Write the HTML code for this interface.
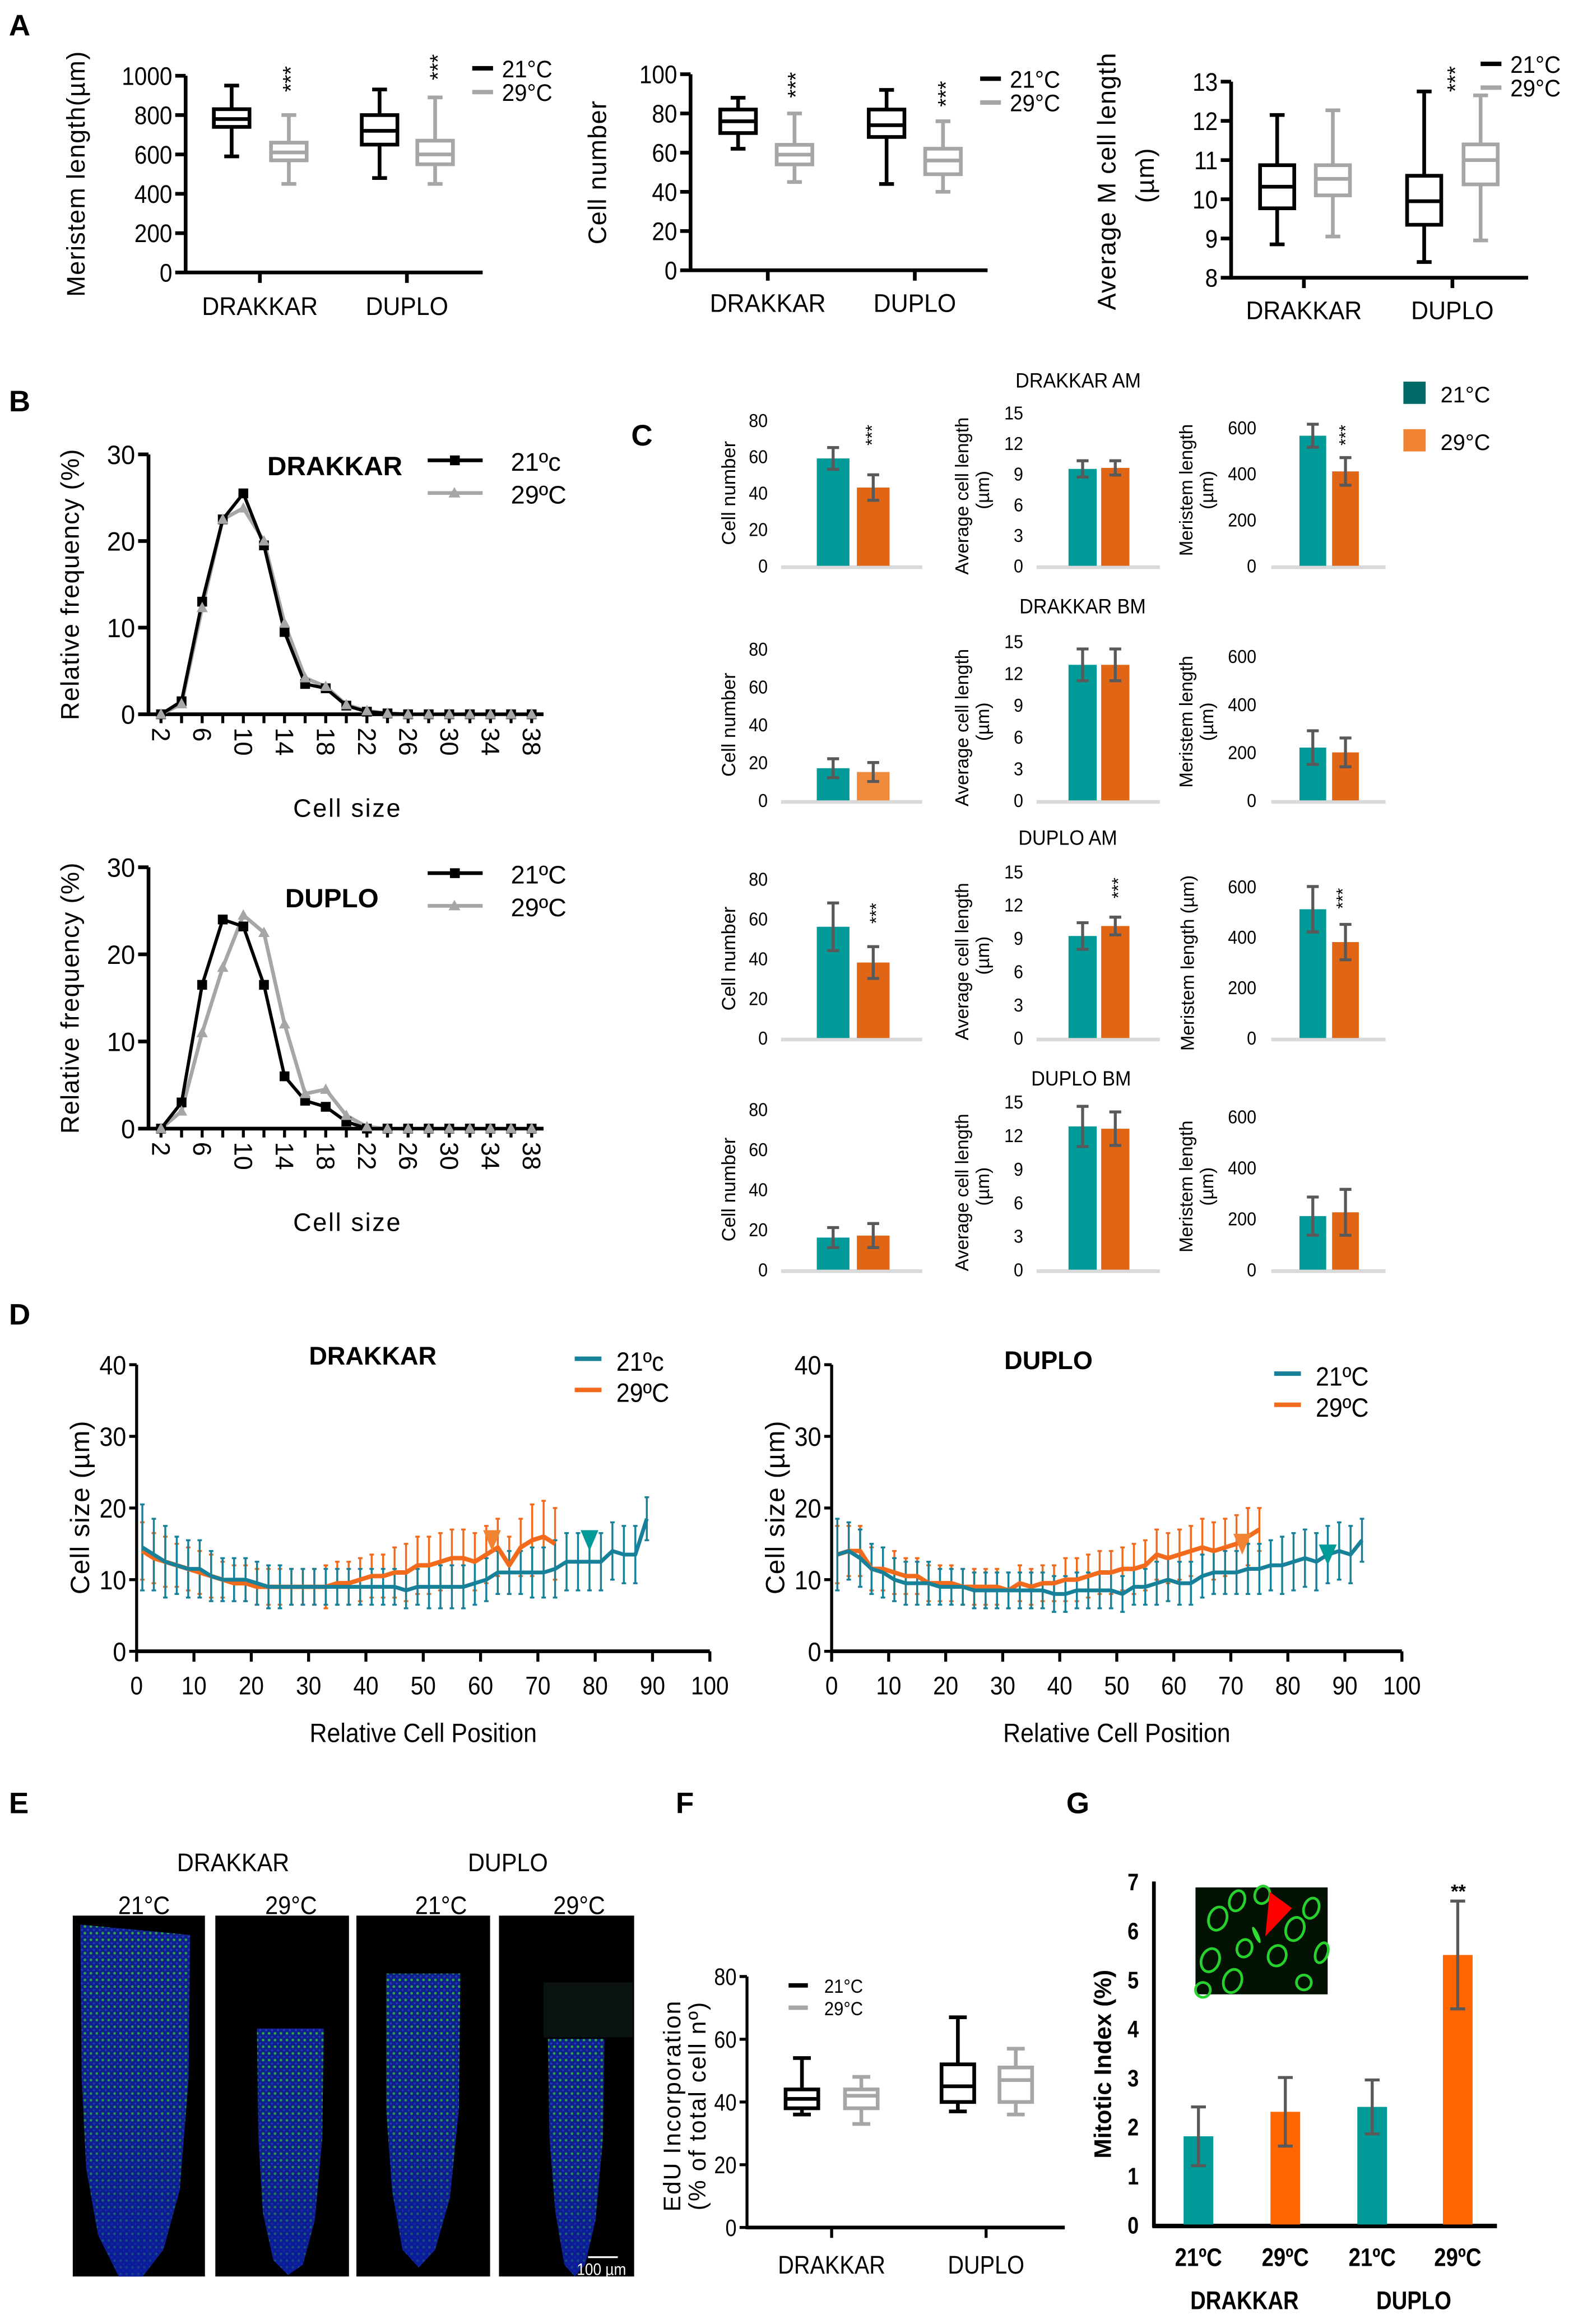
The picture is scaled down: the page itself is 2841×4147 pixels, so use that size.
<!DOCTYPE html>
<html><head><meta charset="utf-8"><style>
html,body{margin:0;padding:0;background:#fff;}
svg{display:block;font-family:"Liberation Sans",Arial,sans-serif;}
</style></head><body>
<svg id="fig" xmlns="http://www.w3.org/2000/svg" width="2841" height="4147" viewBox="0 0 1072 1565" preserveAspectRatio="none">
<defs>
<pattern id="cells" width="4" height="4.5" patternUnits="userSpaceOnUse">
<rect width="4" height="4.5" fill="#10208a"/>
<circle cx="1.2" cy="1.3" r="0.9" fill="#2ea848"/>
<circle cx="3.2" cy="3.6" r="0.7" fill="#1f3fc0"/>
</pattern>
<linearGradient id="fadeblue" x1="0" y1="0" x2="0" y2="1">
<stop offset="0" stop-color="#0a1890" stop-opacity="0"/>
<stop offset="0.55" stop-color="#0a1890" stop-opacity="0.15"/>
<stop offset="1" stop-color="#0a1aa0" stop-opacity="0.75"/>
</linearGradient>
</defs>
<g id="root"></g>
</svg>
<script>
// ===== DATA =====
const aGroups = ['DRAKKAR', 'DUPLO'];
const a1_21 = [[590, 740, 780, 830, 950], [480, 650, 720, 800, 930]];
const a1_29 = [[450, 570, 610, 660, 800], [450, 550, 600, 670, 890]];
const a2_21 = [[62, 70, 76, 82, 88], [44, 68, 74, 82, 92]];
const a2_29 = [[45, 54, 59, 64, 80], [40, 49, 56, 62, 76]];
const a3_21 = [[8.85, 9.77, 10.32, 10.87, 12.15], [8.4, 9.35, 9.95, 10.6, 12.75]];
const a3_29 = [[9.05, 10.1, 10.52, 10.87, 12.27], [8.95, 10.38, 11.0, 11.4, 12.65]];
const a1Ticks = [0, 200, 400, 600, 800, 1000];
const a2Ticks = [0, 20, 40, 60, 80, 100];
const a3Ticks = [8, 9, 10, 11, 12, 13];
const bCats = [2, 4, 6, 8, 10, 12, 14, 16, 18, 20, 22, 24, 26, 28, 30, 32, 34, 36, 38];
const b1_21 = [0, 1.5, 13, 22.5, 25.5, 19.5, 9.5, 3.5, 3, 1, 0.3, 0.1, 0, 0, 0, 0, 0, 0, 0];
const b1_29 = [0, 1.2, 12.3, 22.5, 23.8, 20, 10.5, 4.2, 3.2, 1.1, 0.4, 0.1, 0, 0, 0, 0, 0, 0, 0];
const b2_21 = [0, 3, 16.5, 24, 23.2, 16.5, 6, 3.2, 2.5, 0.8, 0, 0, 0, 0, 0, 0, 0, 0, 0];
const b2_29 = [0, 2, 11, 18.5, 24.5, 22.5, 12, 4, 4.5, 1.5, 0.2, 0, 0, 0, 0, 0, 0, 0, 0];
const bTicks = [0, 10, 20, 30];
const cRows = ['DRAKKAR AM', 'DRAKKAR BM', 'DUPLO AM', 'DUPLO BM'];
const cNum21 = [[59, 6], [17, 5], [56, 12], [16, 5]];
const cNum29 = [[43, 7], [15, 5], [38, 8], [17, 6]];
const cLen21 = [[9.5, 0.8], [12.8, 1.5], [9.2, 1.2], [12.8, 1.8]];
const cLen29 = [[9.6, 0.7], [12.8, 1.5], [10.1, 0.8], [12.6, 1.5]];
const cMer21 = [[565, 50], [220, 70], [510, 90], [210, 75]];
const cMer29 = [[410, 60], [200, 60], [380, 70], [225, 90]];
const cNumTicks = [0, 20, 40, 60, 80];
const cLenTicks = [0, 3, 6, 9, 12, 15];
const cMerTicks = [0, 200, 400, 600];
const d1_21 = [14.5, 13.5, 12.5, 12, 11.5, 11.5, 10.5, 10, 10, 10, 9.5, 9, 9, 9, 9, 9, 9, 9, 9, 9, 9, 9, 9, 8.5, 9, 9, 9, 9, 9, 9.5, 10, 11, 11, 11, 11, 11, 11.5, 12.5, 12.5, 12.5, 12.5, 14, 13.5, 13.5, 18.5];
const d1_21e = [6, 5, 5, 4, 4, 4, 3.5, 3, 3, 3, 3, 3, 3, 2.5, 2.5, 2.5, 2.5, 2.5, 2.5, 2.5, 2.5, 2.5, 2.5, 2.5, 2.5, 3, 3, 3, 3, 3, 3, 3, 3, 3, 3.5, 3.5, 4, 4, 4, 4, 4, 4, 4, 4, 3];
const d1_29 = [14, 13, 12.5, 12, 11.5, 11, 10.5, 10, 9.5, 9.5, 9, 9, 9, 9, 9, 9, 9, 9.5, 9.5, 10, 10.5, 10.5, 11, 11, 12, 12, 12.5, 13, 13, 12.5, 13.5, 14.5, 12, 14.5, 15.5, 16, 15];
const d1_29e = [4, 3.5, 3.5, 3, 3, 3, 3, 2.5, 2.5, 2.5, 2.5, 2.5, 2.5, 2.5, 2.5, 2.5, 3, 3, 3, 3, 3, 3, 3.5, 4, 4, 4, 4, 4, 4, 4, 4, 4, 4, 4, 5, 5, 5];
const d2_21 = [13.5, 14, 13, 11.5, 11, 10, 9.5, 9.5, 9.5, 9, 9, 9, 8.5, 8.5, 8.5, 8.5, 8.5, 8.5, 8.5, 8, 8, 8.5, 8.5, 8.5, 8.5, 8, 9, 9, 9.5, 10, 9.5, 9.5, 10.5, 11, 11, 11, 11.5, 11.5, 12, 12, 12.5, 13, 12.5, 13.5, 14, 13.5, 15.5];
const d2_21e = [5, 4, 4, 3.5, 3.5, 3, 3, 3, 3, 2.5, 2.5, 2.5, 2.5, 2.5, 2.5, 2.5, 2.5, 2.5, 2.5, 2.5, 2.5, 2.5, 2.5, 2.5, 2.5, 2.5, 2.5, 2.5, 3, 3, 3, 3, 3, 3, 3, 3, 3.5, 3.5, 3.5, 4, 4, 4, 4, 4, 4, 4, 3];
const d2_29 = [13.5, 14, 14, 11.5, 11.5, 11, 10.5, 10.5, 9.5, 9.5, 9.5, 9, 9, 9, 9, 8.5, 9.5, 9, 9.5, 9.5, 10, 10, 10.5, 11, 11, 11.5, 11.5, 12, 13.5, 13, 13.5, 14, 14.5, 14, 14.5, 15, 16, 17];
const d2_29e = [4, 3.5, 3.5, 3, 3, 3, 2.5, 2.5, 2.5, 2.5, 2.5, 2.5, 2.5, 2.5, 2.5, 2.5, 2.5, 2.5, 2.5, 2.5, 3, 3, 3, 3, 3, 3, 3.5, 3.5, 3.5, 3.5, 3.5, 3.5, 4, 4, 4, 4, 4, 3];
const dXTicks = [0, 10, 20, 30, 40, 50, 60, 70, 80, 90, 100];
const dYTicks = [0, 10, 20, 30, 40];
const f_21 = [[36, 38, 41, 44, 54], [37, 40, 45, 52, 67]];
const f_29 = [[33, 38, 42, 44, 48], [36, 40, 47, 51, 57]];
const fTicks = [0, 20, 40, 60, 80];
const gCats = ['21ºC', '29ºC', '21ºC', '29ºC'];
const gVals = [1.8, 2.3, 2.4, 5.5];
const gErr = [0.6, 0.7, 0.55, 1.1];
const gTicks = [0, 1, 2, 3, 4, 5, 6, 7];

// ===== HELPERS =====
const NS = 'http://www.w3.org/2000/svg';
const R = document.getElementById('root');
function mk(tag, a, p) { const e = document.createElementNS(NS, tag); for (const k in a) e.setAttribute(k, a[k]); (p || R).appendChild(e); return e; }
function T(x, y, s, nm, o) {
  o = o || {};
  const e = mk('text', { x: x, y: y, 'font-size': o.fs || 14, 'text-anchor': o.a || 'start', fill: o.c || '#000', 'font-weight': o.b ? 'bold' : 'normal' }, o.p);
  if (o.rot) e.setAttribute('transform', 'rotate(' + o.rot + ' ' + x + ' ' + y + ')');
  if (o.ls !== undefined) e.setAttribute('letter-spacing', o.ls);
  if (o.sx) e.setAttribute('transform', 'translate(' + x + ' ' + y + ') scale(' + o.sx + ' 1) translate(' + (-x) + ' ' + (-y) + ')' + (o.rot ? ' rotate(' + o.rot + ' ' + x + ' ' + y + ')' : ''));
  e.textContent = s;
  
  
  return e;
}
function L(x1, y1, x2, y2, c, w, nm, p) {
  const e = mk('line', { x1: x1, y1: y1, x2: x2, y2: y2, stroke: c || '#000', 'stroke-width': w || 2 }, p);
  
  
  return e;
}
function lin(v0, v1, p0, p1) { return v => p0 + (v - v0) / (v1 - v0) * (p1 - p0); }
function G(nm) { const g = mk('g', {});   return g; }

function yAxis(x, y, ticks, fs, tl, nm, opt) {
  opt = opt || {};
  const g = G(nm);
  L(x, y(ticks[0]) + 1.2, x, y(ticks[ticks.length - 1]), '#000', opt.w || 2.5, 'y-axis-line', g);
  ticks.forEach(t => {
    L(x - tl, y(t), x, y(t), '#000', opt.w || 2.5, 'y-tick', g);
    T(x - tl - 2, y(t) + fs * 0.36, String(t), 'y-tick-label', { fs: fs, a: 'end', p: g, sx: opt.sx });
  });
  return g;
}
function boxplot(cx, y, st, col, w, cap, nm, p) {
  const g = mk('g', {}, p);
  
  
  const sw = 2.5;
  L(cx, y(st[0]), cx, y(st[1]), col, sw, 'whisker-low', g);
  L(cx, y(st[3]), cx, y(st[4]), col, sw, 'whisker-high', g);
  L(cx - cap / 2, y(st[0]), cx + cap / 2, y(st[0]), col, sw, 'whisker-cap', g);
  L(cx - cap / 2, y(st[4]), cx + cap / 2, y(st[4]), col, sw, 'whisker-cap', g);
  const r = mk('rect', { x: cx - w / 2, y: y(st[3]), width: w, height: y(st[1]) - y(st[3]), fill: 'none', stroke: col, 'stroke-width': sw }, g);
  
  
  L(cx - w / 2, y(st[2]), cx + w / 2, y(st[2]), col, sw, 'median-line', g);
}
function errbar(cx, y1, y2, cap, col, w, p) {
  L(cx, y1, cx, y2, col, w, 'error-bar', p);
  L(cx - cap / 2, y1, cx + cap / 2, y1, col, w, 'error-cap', p);
  L(cx - cap / 2, y2, cx + cap / 2, y2, col, w, 'error-cap', p);
}

// ===== PANEL LETTERS =====
[['A', 6, 24], ['B', 6, 277], ['C', 425, 300], ['D', 6, 892], ['E', 6, 1221], ['F', 455, 1221], ['G', 718, 1221]].forEach(l => {
  T(l[1], l[2], l[0], 'panel-label-' + l[0].toLowerCase(), { fs: 20, b: true });
});

// ===== PANEL A =====
function panelA(cfg) {
  const g = G(cfg.name);
  const y = cfg.y;
  yAxis(cfg.ax, y, cfg.ticks, 17, 7, cfg.name + '-y-axis', { sx: 0.9 });
  const yb = y(cfg.ticks[0]);
  L(cfg.ax, yb, cfg.xend, yb, '#000', 2.5, 'x-axis-line', g);
  aGroups.forEach((grp, i) => {
    L(cfg.gx[i], yb, cfg.gx[i], yb + 7, '#000', 2.5, 'x-tick', g);
    T(cfg.gx[i], cfg.ly, grp, 'x-label-' + grp.toLowerCase(), { fs: 17, a: 'middle', p: g, sx: 0.95 });
    boxplot(cfg.bx[i][0], y, cfg.d21[i], '#000', cfg.bw, 10, 'box-' + grp.toLowerCase() + '-21c', g);
    boxplot(cfg.bx[i][1], y, cfg.d29[i], '#a6a6a6', cfg.bw, 10, 'box-' + grp.toLowerCase() + '-29c', g);
  });
  cfg.stars.forEach(s => T(s[0], s[1], '***', 'significance-stars', { fs: 15, rot: -90, p: g }));
  L(cfg.lx, cfg.ly1, cfg.lx + 14, cfg.ly1, '#000', 3, 'legend-line-21c', g);
  L(cfg.lx, cfg.ly1 + 16, cfg.lx + 14, cfg.ly1 + 16, '#a6a6a6', 3, 'legend-line-29c', g);
  T(cfg.lx + 20, cfg.ly1 + 6, '21°C', 'legend-label-21c', { fs: 16, p: g, sx: 0.95 });
  T(cfg.lx + 20, cfg.ly1 + 22, '29°C', 'legend-label-29c', { fs: 16, p: g, sx: 0.95 });
  cfg.titles.forEach(t => T(t[0], t[1], t[2], 'y-axis-title', { fs: 17, a: 'middle', rot: -90, p: g, ls: t[3] || 0 }));
}
panelA({ name: 'chart-a-meristem-length', ax: 125, y: lin(0, 1000, 183.5, 51), ticks: a1Ticks, xend: 325, gx: [175, 274], ly: 212,
  bx: [[156, 194.5], [255.6, 293]], bw: 24, d21: a1_21, d29: a1_29, stars: [[201, 62], [300, 54]], lx: 318, ly1: 46,
  titles: [[57, 117, 'Meristem length(µm)', 0.5]] });
panelA({ name: 'chart-a-cell-number', ax: 465, y: lin(0, 100, 182, 50), ticks: a2Ticks, xend: 665, gx: [517, 616], ly: 210,
  bx: [[497, 535], [597, 635]], bw: 24, d21: a2_21, d29: a2_29, stars: [[541, 66], [642, 72]], lx: 660, ly1: 53,
  titles: [[408, 116, 'Cell number', 0.5]] });
panelA({ name: 'chart-a-average-cell-length', ax: 829, y: lin(8, 13, 187, 55), ticks: a3Ticks, xend: 1029, gx: [878, 978], ly: 215,
  bx: [[860, 897.5], [959, 997]], bw: 23, d21: a3_21, d29: a3_29, stars: [[985, 62]], lx: 997, ly1: 43,
  titles: [[751, 122, 'Average M cell length', 0.5], [777, 118, '(µm)', 0.5]] });

// ===== PANEL B =====
function panelB(cfg) {
  const g = G(cfg.name);
  const x = lin(2, 38, 108.4, 358);
  const y = cfg.y;
  yAxis(100, y, bTicks, 18, 7, cfg.name + '-y-axis', { sx: 0.95 });
  L(100, y(0), 366, y(0), '#000', 2.5, 'x-axis-line', g);
  bCats.forEach((c, i) => {
    L(x(c), y(0), x(c), y(0) + 6, '#000', 2, 'x-tick', g);
    if (i % 2 === 0) T(x(c) - 6, y(0) + 9, String(c), 'x-tick-label', { fs: 17, rot: 90, p: g });
  });
  const p29 = bCats.map((c, i) => x(c) + ',' + y(cfg.s29[i])).join(' ');
  const l29 = mk('polyline', { points: p29, fill: 'none', stroke: '#a6a6a6', 'stroke-width': 2.5 }, g);
  
  
  const p21 = bCats.map((c, i) => x(c) + ',' + y(cfg.s21[i])).join(' ');
  const l21 = mk('polyline', { points: p21, fill: 'none', stroke: '#000', 'stroke-width': 2.2 }, g);
  
  
  bCats.forEach((c, i) => {
    const s = mk('rect', { x: x(c) - 3.3, y: y(cfg.s21[i]) - 3.3, width: 6.6, height: 6.6, fill: '#000' }, g);
    
    
    const cx = x(c), cy = y(cfg.s29[i]);
    const t = mk('polygon', { points: (cx - 3.8) + ',' + (cy + 3) + ' ' + (cx + 3.8) + ',' + (cy + 3) + ' ' + cx + ',' + (cy - 4), fill: '#a6a6a6' }, g);
    
    
  });
  T(cfg.tx, cfg.ty, cfg.title, 'chart-title', { fs: 18, b: true, p: g });
  L(288, cfg.ly, 325, cfg.ly, '#000', 2.5, 'legend-line-21c', g);
  const ls = mk('rect', { x: 303, y: cfg.ly - 3.3, width: 6.6, height: 6.6, fill: '#000' }, g);
  
  
  L(288, cfg.ly + 22, 325, cfg.ly + 22, '#a6a6a6', 2.5, 'legend-line-29c', g);
  const lt = mk('polygon', { points: '302,' + (cfg.ly + 25) + ' 310,' + (cfg.ly + 25) + ' 306,' + (cfg.ly + 18), fill: '#a6a6a6' }, g);
  
  
  T(344, cfg.ly + 7, cfg.l1, 'legend-label-21c', { fs: 17, p: g });
  T(344, cfg.ly + 29, '29ºC', 'legend-label-29c', { fs: 17, p: g });
  T(53, (y(0) + y(30)) / 2, 'Relative frequency (%)', 'y-axis-title', { fs: 17, a: 'middle', rot: -90, p: g, ls: 0.5 });
  T(234, y(0) + 69, 'Cell size', 'x-axis-title', { fs: 17, a: 'middle', p: g, ls: 1 });
}
panelB({ name: 'chart-b-drakkar', y: lin(0, 30, 481, 306), s21: b1_21, s29: b1_29, title: 'DRAKKAR', tx: 180, ty: 320, ly: 310, l1: '21ºc' });
panelB({ name: 'chart-b-duplo', y: lin(0, 30, 760, 584), s21: b2_21, s29: b2_29, title: 'DUPLO', tx: 192, ty: 611, ly: 588, l1: '21ºC' });

// ===== PANEL C =====
const cTop = [283, 437, 592, 747];
const cBase = [381, 539, 699, 855];
const cTitleY = [261, 413, 569, 731];
const cTitleX = [726, 729, 719, 728];
const cStars = [[[1, 587, 293], [1, 906, 293]], [], [[1, 590, 615], [1, 753, 598], [1, 904, 605]], []];
cRows.forEach((rw, r) => {
  const g = G('chart-c-' + rw.toLowerCase().replace(' ', '-'));
  T(cTitleX[r], cTitleY[r], rw, 'row-title', { fs: 14, a: 'middle', p: g, sx: 0.92 });
  const cols = [
    { d21: cNum21[r], d29: cNum29[r], ticks: cNumTicks, cx: [561, 588], w: 22, b0: 526, b1: 621, lx: 517, top: cTop[r], n: 'cell-number' },
    { d21: cLen21[r], d29: cLen29[r], ticks: cLenTicks, cx: [729, 751], w: 19, b0: 698, b1: 781, lx: 689, top: cTop[r] - 5, n: 'average-cell-length' },
    { d21: cMer21[r], d29: cMer29[r], ticks: cMerTicks, cx: [884, 906], w: 18, b0: 856, b1: 933, lx: 846, top: cTop[r] + 5, n: 'meristem-length' }
  ];
  cols.forEach((c, ci) => {
    const y = lin(0, c.ticks[c.ticks.length - 1], cBase[r], c.top);
    c.ticks.forEach(t => T(c.lx, y(t) + 4.5, String(t), 'y-tick-label', { fs: 12.5, a: 'end', p: g, sx: 0.92 }));
    L(c.b0, cBase[r] + 1, c.b1, cBase[r] + 1, '#d9d9d9', 2.5, 'baseline', g);
    [[c.d21, '#009a98', '21c'], [c.d29, (r === 1 && ci === 0) ? '#f08a3c' : '#e06616', '29c']].forEach((s, k) => {
      const b = mk('rect', { x: c.cx[k] - c.w / 2, y: y(s[0][0]), width: c.w, height: cBase[r] - y(s[0][0]), fill: s[1] }, g);
      
      
      errbar(c.cx[k], y(s[0][0] + s[0][1]), y(s[0][0] - s[0][1]), 8, '#595959', 2, g);
    });
  });
  const mid = (cTop[r] + cBase[r]) / 2;
  T(495, mid, 'Cell number', 'y-axis-title', { fs: 13, a: 'middle', rot: -90, p: g });
  T(652, mid + 2, 'Average cell length', 'y-axis-title', { fs: 12.5, a: 'middle', rot: -90, p: g });
  T(666, mid - 2, '(µm)', 'y-axis-title', { fs: 12.5, a: 'middle', rot: -90, p: g });
  if (r === 2) {
    T(804, mid + 3, 'Meristem length (µm)', 'y-axis-title', { fs: 12.5, a: 'middle', rot: -90, p: g });
  } else {
    T(803, mid - 2, 'Meristem length', 'y-axis-title', { fs: 12.5, a: 'middle', rot: -90, p: g });
    T(817, mid - 2, '(µm)', 'y-axis-title', { fs: 12.5, a: 'middle', rot: -90, p: g });
  }
  cStars[r].forEach(s => T(s[1] + 4, s[2], '***', 'significance-stars', { fs: 12, rot: -90, a: 'middle', p: g }));
});
{
  const g = G('legend-c');
  const s1 = mk('rect', { x: 945, y: 257, width: 15, height: 15, fill: '#006a68' }, g);
  
  
  const s2 = mk('rect', { x: 945, y: 289, width: 15, height: 15, fill: '#f08433' }, g);
  
  
  T(970, 271, '21°C', 'legend-label-21c', { fs: 15, p: g });
  T(970, 303, '29°C', 'legend-label-29c', { fs: 15, p: g });
}

// ===== PANEL D =====
function panelD(cfg) {
  const g = G(cfg.name);
  const x = lin(0, 100, cfg.x0, cfg.x1);
  const y = lin(0, 40, 1112, 919);
  yAxis(cfg.x0, y, dYTicks, 18, 5, cfg.name + '-y-axis', { w: 2, sx: 0.9 });
  L(cfg.x0, y(0), cfg.x1, y(0), '#000', 2.5, 'x-axis-line', g);
  dXTicks.forEach(t => {
    L(x(t), y(0), x(t), y(0) + 7, '#000', 2, 'x-tick', g);
    T(x(t), y(0) + 29, String(t), 'x-tick-label', { fs: 17, a: 'middle', p: g, sx: 0.9 });
  });
  const series = [[cfg.s29, cfg.e29, '#f26a1b', '29c', 3], [cfg.s21, cfg.e21, '#17819a', '21c', 2.6]];
  series.forEach(s => {
    s[0].forEach((v, i) => errbar(x(1 + 2 * i), y(v + s[1][i]), y(v - s[1][i]), 3, s[2], 1.3, g));
  });
  series.forEach(s => {
    const pts = s[0].map((v, i) => x(1 + 2 * i) + ',' + y(v)).join(' ');
    const pl = mk('polyline', { points: pts, fill: 'none', stroke: s[2], 'stroke-width': s[4], 'stroke-linejoin': 'round' }, g);
    
    
  });
  cfg.arrows.forEach(a => {
    const ax = x(a[0]), ay = y(a[1]);
    const tri = mk('polygon', { points: (ax - 6) + ',' + (ay - 14) + ' ' + (ax + 6) + ',' + (ay - 14) + ' ' + ax + ',' + ay, fill: a[2] }, g);
    
    
  });
  T(cfg.tx, cfg.ty, cfg.title, 'chart-title', { fs: 17, b: true, a: 'middle', p: g });
  L(cfg.lx, cfg.ly, cfg.lx + 18, cfg.ly, '#17819a', 3, 'legend-line-21c', g);
  L(cfg.lx, cfg.ly + 21, cfg.lx + 18, cfg.ly + 21, '#f26a1b', 3, 'legend-line-29c', g);
  T(cfg.lx + 28, cfg.ly + 8, cfg.l1, 'legend-label-21c', { fs: 18, p: g, sx: 0.9 });
  T(cfg.lx + 28, cfg.ly + 29, '29ºC', 'legend-label-29c', { fs: 18, p: g, sx: 0.9 });
  T(cfg.x0 - 32, 1015, 'Cell size (µm)', 'y-axis-title', { fs: 18, a: 'middle', rot: -90, p: g, ls: 0.5 });
  T((cfg.x0 + cfg.x1) / 2, 1173, 'Relative Cell Position', 'x-axis-title', { fs: 18, a: 'middle', p: g, sx: 0.9 });
}
panelD({ name: 'chart-d-drakkar', x0: 92, x1: 478, s21: d1_21, e21: d1_21e, s29: d1_29, e29: d1_29e, arrows: [[62, 14, '#f08433'], [79, 14, '#009a98']],
  title: 'DRAKKAR', tx: 251, ty: 919, lx: 387, ly: 915, l1: '21ºc' });
panelD({ name: 'chart-d-duplo', x0: 560, x1: 944, s21: d2_21, e21: d2_21e, s29: d2_29, e29: d2_29e, arrows: [[72, 13.5, '#f08433'], [87, 12, '#009a98']],
  title: 'DUPLO', tx: 706, ty: 922, lx: 858, ly: 925, l1: '21ºC' });

// ===== PANEL E (microscopy) =====
{
  const g = G('panel-e-root-images');
  T(157, 1260, 'DRAKKAR', 'label-drakkar', { fs: 17, a: 'middle', p: g, sx: 0.92 });
  T(342, 1260, 'DUPLO', 'label-duplo', { fs: 17, a: 'middle', p: g, sx: 0.92 });
  [[97, '21°C'], [196, '29°C'], [297, '21°C'], [390, '29°C']].forEach(t => T(t[0], 1289, t[1], 'temperature-label', { fs: 17, a: 'middle', p: g, sx: 0.92 }));
  const panels = [[49, 89], [145, 90], [240, 90], [336, 91]];
  const roots = [
    'M54,1296 L128,1303 L127,1400 L121,1475 L110,1515 L96,1533 L80,1533 L66,1505 L58,1460 L55,1400 Z',
    'M173,1366 L218,1366 L217,1440 L212,1495 L204,1525 L194,1532 L184,1522 L177,1490 L174,1440 Z',
    'M260,1329 L310,1329 L309,1420 L303,1480 L293,1515 L282,1527 L271,1515 L264,1475 L260,1420 Z',
    'M369,1373 L407,1373 L406,1440 L401,1495 L394,1525 L387,1533 L380,1525 L374,1490 L370,1440 Z'
  ];
  panels.forEach((p, i) => {
    const r = mk('rect', { x: p[0], y: 1290, width: p[1], height: 243, fill: '#000' }, g);
    
    
  });
  const dk = mk('rect', { x: 366, y: 1335, width: 60, height: 37, fill: '#0a1212' }, g);
  
  
  roots.forEach((d, i) => {
    const pth = mk('path', { d: d, fill: 'url(#cells)' }, g);
    
    
    const ov = mk('path', { d: d, fill: 'url(#fadeblue)' }, g);
    
    
  });
  L(396, 1520, 416, 1520, '#fff', 1.2, 'scale-bar', g);
  T(405, 1532, '100 µm', 'scale-bar-label', { fs: 11, a: 'middle', c: '#fff', p: g, sx: 0.9 });
}

// ===== PANEL F =====
{
  const g = G('chart-f-edu');
  const y = lin(0, 80, 1500, 1331);
  yAxis(503, y, fTicks, 16, 5, 'chart-f-y-axis', { w: 2, sx: 0.85 });
  L(503, y(0), 717, y(0), '#000', 2.5, 'x-axis-line', g);
  const gx = [560, 664];
  const bx = [[540, 580], [645, 684]];
  aGroups.forEach((grp, i) => {
    L(gx[i], y(0), gx[i], y(0) + 7, '#000', 2, 'x-tick', g);
    T(gx[i], 1531, grp, 'x-label-' + grp.toLowerCase(), { fs: 17, a: 'middle', p: g, sx: 0.88 });
    boxplot(bx[i][0], y, f_21[i], '#000', 22, 12, 'box-' + grp.toLowerCase() + '-21c', g);
    boxplot(bx[i][1], y, f_29[i], '#a6a6a6', 22, 12, 'box-' + grp.toLowerCase() + '-29c', g);
  });
  L(531, 1337, 544, 1337, '#000', 3, 'legend-line-21c', g);
  L(531, 1352, 544, 1352, '#a6a6a6', 3, 'legend-line-29c', g);
  T(555, 1342, '21°C', 'legend-label-21c', { fs: 13, p: g, sx: 0.9 });
  T(555, 1357, '29°C', 'legend-label-29c', { fs: 13, p: g, sx: 0.9 });
  T(458, 1418, 'EdU Incorporation', 'y-axis-title', { fs: 16, a: 'middle', rot: -90, p: g, ls: 0.8 });
  T(475, 1418, '(% of total cell nº)', 'y-axis-title', { fs: 16, a: 'middle', rot: -90, p: g, ls: 0.8 });
}

// ===== PANEL G =====
{
  const g = G('chart-g-mitotic-index');
  const y = lin(0, 7, 1498, 1267);
  const x = [807, 865.5, 924, 981.6];
  L(777, 1267, 777, 1500, '#000', 2.5, 'y-axis-line', g);
  gTicks.forEach(t => T(763, y(t) + 6, String(t), 'y-tick-label', { fs: 16, a: 'middle', b: true, p: g, sx: 0.85 }));
  L(776, 1499, 1008, 1499, '#000', 3, 'x-axis-line', g);
  const cols = ['#009a98', '#ff6600', '#009a98', '#ff6600'];
  gVals.forEach((v, i) => {
    const b = mk('rect', { x: x[i] - 10, y: y(v), width: 20, height: y(0) - y(v), fill: cols[i] }, g);
    
    
    errbar(x[i], y(v + gErr[i]), y(v - gErr[i]), 10, '#595959', 2, g);
    T(x[i], 1526, gCats[i], 'x-tick-label', { fs: 17, a: 'middle', b: true, p: g, sx: 0.85 });
  });
  T(838, 1555, 'DRAKKAR', 'group-label-drakkar', { fs: 17, a: 'middle', b: true, p: g, sx: 0.85 });
  T(952, 1555, 'DUPLO', 'group-label-duplo', { fs: 17, a: 'middle', b: true, p: g, sx: 0.85 });
  T(982, 1278, '**', 'significance-stars', { fs: 13, a: 'middle', b: true, p: g });
  T(748, 1390, 'Mitotic Index (%)', 'y-axis-title', { fs: 16, a: 'middle', b: true, rot: -90, p: g });
  const ins = mk('rect', { x: 805, y: 1271, width: 89, height: 72, fill: '#031203' }, g);
  
  
  [[820, 1292, 6, 8], [833, 1280, 5, 7], [815, 1320, 6, 8], [838, 1312, 5, 6], [830, 1334, 6, 8], [860, 1317, 6, 7], [872, 1299, 6, 8], [883, 1285, 5, 7], [890, 1315, 4, 7], [850, 1276, 5, 6], [810, 1340, 5, 5], [878, 1335, 5, 5]].forEach(c => {
    const e = mk('ellipse', { cx: c[0], cy: c[1], rx: c[2], ry: c[3], fill: 'none', stroke: '#28d22e', 'stroke-width': 1.8, transform: 'rotate(20 ' + c[0] + ' ' + c[1] + ')' }, g);
    
    
  });
  const sp = mk('ellipse', { cx: 846, cy: 1303, rx: 1.5, ry: 6, fill: '#30e030', transform: 'rotate(-25 846 1303)' }, g);
  
  
  const arr = mk('polygon', { points: '855,1274 870,1285 852,1304', fill: '#ff0000' }, g);
  
  
}
</script>
</body></html>
